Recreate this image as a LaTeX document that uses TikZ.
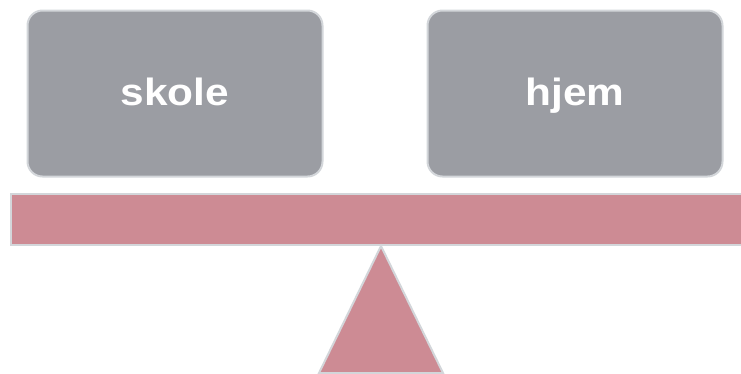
\documentclass[tikz,border=0pt]{standalone}
\usepackage{fontspec}
\setmainfont{Liberation Sans}
\newcommand{\widetext}[1]{\scalebox{1.115}[1]{#1}}
\begin{document}
\begin{tikzpicture}[x=1pt,y=-1pt]
\definecolor{cardgray}{HTML}{9B9DA3}
\definecolor{pinkish}{HTML}{CD8B94}
\definecolor{edgegray}{HTML}{D3D6DA}
\tikzset{
  edge/.style={draw=edgegray, line width=2pt},
  card/.style={edge, fill=cardgray, rounded corners=15pt, minimum width=295pt, minimum height=166pt,
    inner sep=0pt, text height=27.4pt, text depth=3pt, text=white,
    font=\fontsize{38}{44}\selectfont\bfseries},
  plank/.style={edge, fill=pinkish}}
\useasboundingbox (0,0) rectangle (741,373);
\node[card] (skole) at (175,93.5) {\widetext{skole}};
\node[card] (hjem) at (575,93.5) {\widetext{hjem}};
\path[plank] (11,194) rectangle (746,245);
\coordinate (apex) at (381,246);
\path[plank] (apex) -- (443,373) -- (319,373) -- cycle;
\end{tikzpicture}
\end{document}
